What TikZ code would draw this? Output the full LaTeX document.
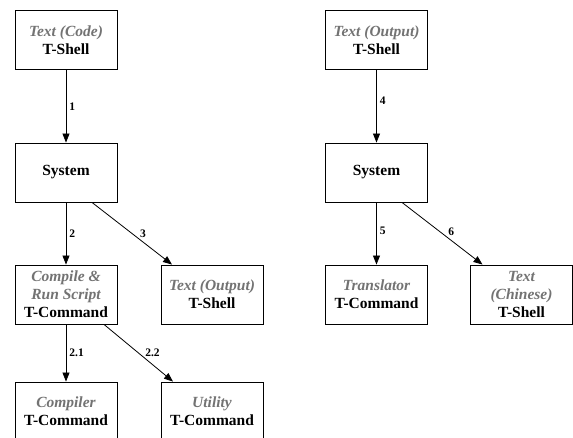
\documentclass[tikz,border=0pt]{standalone}
\usepackage{fontspec}
\setmainfont{Liberation Serif}
\usetikzlibrary{arrows.meta}
\definecolor{rolegray}{HTML}{737373}
\tikzset{
  comp/.style={draw=black, line width=0.9pt, fill=white, minimum width=102pt,
    minimum height=59pt, align=center, inner sep=2pt,
    font=\rmfamily\fontsize{15.5}{18}\selectfont\bfseries},
  flow/.style={draw=black, line width=0.8pt, -{Triangle[length=9pt,width=7pt]}},
  num/.style={font=\rmfamily\fontsize{11.5}{13}\selectfont\bfseries, inner sep=0pt},
}
\newcommand{\role}[1]{{\color{rolegray}\itshape #1}}
\begin{document}
\begin{tikzpicture}[x=1pt, y=-1pt]
  \useasboundingbox (0,0) rectangle (573,438);
  \clip (0,0) rectangle (573,438);

  % left scenario: running a script
  \node[comp] (code)  at (66,40)    {\role{Text (Code)}\\T-Shell};
  \node[comp] (sysA)  at (66,172.5) {System};
  \node[comp] (run)   at (66,294.5) {\role{Compile \&}\\\role{Run Script}\\T-Command};
  \node[comp] (outA)  at (212,294.5){\role{Text (Output)}\\T-Shell};
  \node[comp] (cc)    at (66,411.5) {\role{Compiler}\\T-Command};
  \node[comp] (util)  at (212,411.5){\role{Utility}\\T-Command};

  % right scenario: translating output
  \node[comp] (outB)  at (376.5,40)    {\role{Text (Output)}\\T-Shell};
  \node[comp] (sysB)  at (376.5,172.5) {System};
  \node[comp] (trans) at (376.5,294.5) {\role{Translator}\\T-Command};
  \node[comp] (zh)    at (521.5,294.5) {\role{Text}\\\role{(Chinese)}\\T-Shell};

  \draw[flow] (code) -- node[num, midway, anchor=west, xshift=3pt] {1} (sysA);
  \draw[flow] (sysA) -- node[num, midway, anchor=west, xshift=3pt] {2} (run);
  \draw[flow] ([xshift=26pt]sysA.south) -- node[num, midway, xshift=11pt] {3} ([xshift=-40pt]outA.north);
  \draw[flow] (run) -- node[num, midway, anchor=west, xshift=3pt] {2.1} (cc);
  \draw[flow] ([xshift=38pt]run.south) -- node[num, midway, xshift=14pt] {2.2} ([xshift=-39pt]util.north);

  \draw[flow] (outB) -- node[num, midway, anchor=west, xshift=3pt, yshift=6pt] {4} (sysB);
  \draw[flow] (sysB) -- node[num, midway, anchor=west, xshift=3pt, yshift=3pt] {5} (trans);
  \draw[flow] ([xshift=25.5pt]sysB.south) -- node[num, midway, xshift=9pt, yshift=2pt] {6} ([xshift=-39pt]zh.north);
\end{tikzpicture}
\end{document}
